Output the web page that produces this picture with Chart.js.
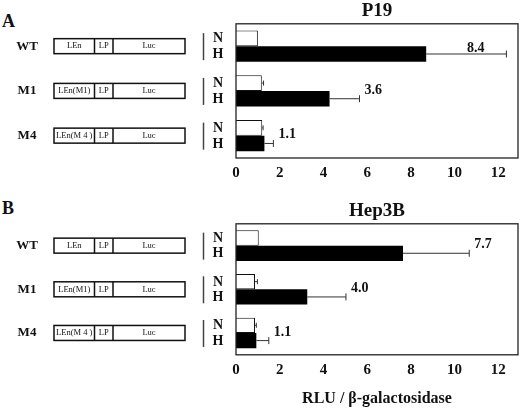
<!DOCTYPE html>
<html>
<head>
<meta charset="utf-8">
<script src="https://cdn.jsdelivr.net/npm/chart.js@4.4.1/dist/chart.umd.min.js"></script>
<style>
  body { margin: 0; background: #fff; }
  #wrap { position: relative; width: 520px; height: 408px; overflow: hidden; }
  .panel { position: absolute; left: 0; }
  #chartA { top: 0; }
  #chartB { top: 200px; }
  .tag { position: absolute; left: 2px; font: bold 18px "Liberation Serif", serif; color: #111; }
</style>
</head>
<body>
<div id="wrap">
  <div class="tag" style="top:11px">A</div>
  <div class="tag" style="top:198px">B</div>
  <canvas id="chartA" class="panel" width="520" height="188"></canvas>
  <canvas id="chartB" class="panel" width="520" height="208"></canvas>
</div>
<script>
"use strict";
// constructs and values (fold of H vs N)
const constructs = ["WT", "M1", "M4"];
const enhancers = ["LEn", "LEn(M1)", "LEn(M 4 )"];
const xTicks = [0, 2, 4, 6, 8, 10, 12];

const p19N = [1.0, 1.18, 1.2];
const p19NErr = [1.0, 1.26, 1.24];
const p19H = [8.7, 4.28, 1.3];
const p19HErr = [12.37, 5.65, 1.71];
const p19Fold = ["8.4", "3.6", "1.1"];

const hepN = [1.04, 0.87, 0.87];
const hepNErr = [1.04, 0.98, 0.93];
const hepH = [7.64, 3.26, 0.93];
const hepHErr = [10.67, 5.03, 1.5];
const hepFold = ["7.7", "4.0", "1.1"];

const SERIF = "'Liberation Serif', 'DejaVu Serif', serif";

// draws box, error bars, fold labels and the construct schematics on the left
function extras(errN, errH, fold) {
  return {
    id: "extras",
    afterDatasetsDraw(chart) {
      const ctx = chart.ctx;
      const xs = chart.scales.x;
      const ys = chart.scales.y;
      const area = chart.chartArea;
      ctx.save();

      // frame
      ctx.strokeStyle = "#222";
      ctx.lineWidth = 1.3;
      ctx.strokeRect(area.left, area.top, area.right - area.left, area.bottom - area.top);

      // error whiskers (upper side only)
      const errs = [errN, errH];
      ctx.strokeStyle = "#333";
      ctx.lineWidth = 1;
      errs.forEach((err, d) => {
        chart.getDatasetMeta(d).data.forEach((el, i) => {
          const ex = xs.getPixelForValue(err[i]);
          if (ex - el.x < 0.5) return;
          const cap = d === 1 ? 3.5 : 2.5;
          ctx.beginPath();
          ctx.moveTo(el.x, el.y);
          ctx.lineTo(ex, el.y);
          ctx.moveTo(ex, el.y - cap);
          ctx.lineTo(ex, el.y + cap);
          ctx.stroke();
        });
      });

      // fold labels
      ctx.fillStyle = "#111";
      ctx.font = "bold 14px " + SERIF;
      const hMeta = chart.getDatasetMeta(1).data;
      fold.forEach((txt, i) => {
        const ex = xs.getPixelForValue(errH[i]);
        const w = ctx.measureText(txt).width;
        if (ex + 5 + w < area.right) {
          ctx.textAlign = "left";
          ctx.textBaseline = "middle";
          ctx.fillText(txt, ex + 5, ys.getPixelForValue(i) - 1);
        } else {
          ctx.textAlign = "right";
          ctx.textBaseline = "alphabetic";
          ctx.fillText(txt, ex - 22, hMeta[i].y - 2);
        }
      });

      // construct schematics
      const nMeta = chart.getDatasetMeta(0).data;
      constructs.forEach((name, i) => {
        const cy = ys.getPixelForValue(i);
        ctx.fillStyle = "#111";
        ctx.textAlign = "center";
        ctx.textBaseline = "middle";
        ctx.font = "bold 13px " + SERIF;
        ctx.fillText(name, 27, cy);

        const x0 = 54, x1 = 94.5, x2 = 113, x3 = 185, h = 15;
        ctx.strokeStyle = "#111";
        ctx.lineWidth = 1.5;
        ctx.strokeRect(x0, cy - h / 2, x3 - x0, h);
        ctx.beginPath();
        ctx.moveTo(x1, cy - h / 2); ctx.lineTo(x1, cy + h / 2);
        ctx.moveTo(x2, cy - h / 2); ctx.lineTo(x2, cy + h / 2);
        ctx.stroke();
        ctx.font = "8.5px " + SERIF;
        ctx.fillText(enhancers[i], (x0 + x1) / 2, cy);
        ctx.fillText("LP", (x1 + x2) / 2, cy);
        ctx.fillText("Luc", (x2 + x3) / 2, cy);

        // bracket and N / H labels
        ctx.strokeStyle = "#444";
        ctx.lineWidth = 1.5;
        ctx.beginPath();
        ctx.moveTo(203.5, cy - 13);
        ctx.lineTo(203.5, cy + 14);
        ctx.stroke();
        ctx.font = "bold 14px " + SERIF;
        ctx.fillText("N", 218, nMeta[i].y + 0.5);
        ctx.fillText("H", 218, hMeta[i].y + 0.5);
      });
      ctx.restore();
    }
  };
}

function makeChart(id, title, nVals, hVals, errN, errH, fold, axisTitle) {
  const ctx = document.querySelector(id).getContext("2d");
  return new Chart(ctx, {
    type: "bar",
    data: {
      labels: constructs,
      datasets: [
        {
          label: "N",
          data: nVals,
          backgroundColor: "#fff",
          borderColor: "#111",
          borderWidth: 1,
          borderSkipped: "start",
        },
        {
          label: "H",
          data: hVals,
          backgroundColor: "#000",
          borderColor: "#000",
          borderWidth: 0,
        },
      ],
    },
    options: {
      indexAxis: "y",
      responsive: false,
      animation: false,
      events: [],
      layout: { padding: { left: 236, right: 2, top: 0, bottom: 0 } },
      datasets: { bar: { categoryPercentage: 0.7, barPercentage: 1.0 } },
      plugins: {
        legend: { display: false },
        tooltip: { enabled: false },
        title: {
          display: true,
          text: title,
          color: "#111",
          font: { family: SERIF, size: 19, weight: "bold" },
          padding: { top: 0, bottom: 1 },
        },
      },
      scales: {
        x: {
          min: 0,
          max: 12.9,
          afterBuildTicks: (s) => { s.ticks = xTicks.map((v) => ({ value: v })); },
          grid: { display: false, drawTicks: false },
          border: { display: false },
          ticks: {
            color: "#111",
            padding: 6,
            maxRotation: 0,
            font: { family: SERIF, size: 15, weight: "bold" },
          },
          title: {
            display: !!axisTitle,
            text: axisTitle || "",
            color: "#111",
            font: { family: SERIF, size: 16, weight: "bold" },
            padding: { top: 4, bottom: 0 },
          },
        },
        y: { display: false },
      },
    },
    plugins: [extras(errN, errH, fold)],
  });
}

makeChart("#chartA", "P19", p19N, p19H, p19NErr, p19HErr, p19Fold, null);
makeChart("#chartB", "Hep3B", hepN, hepH, hepNErr, hepHErr, hepFold, "RLU / \u03b2-galactosidase");
</script>
</body>
</html>
